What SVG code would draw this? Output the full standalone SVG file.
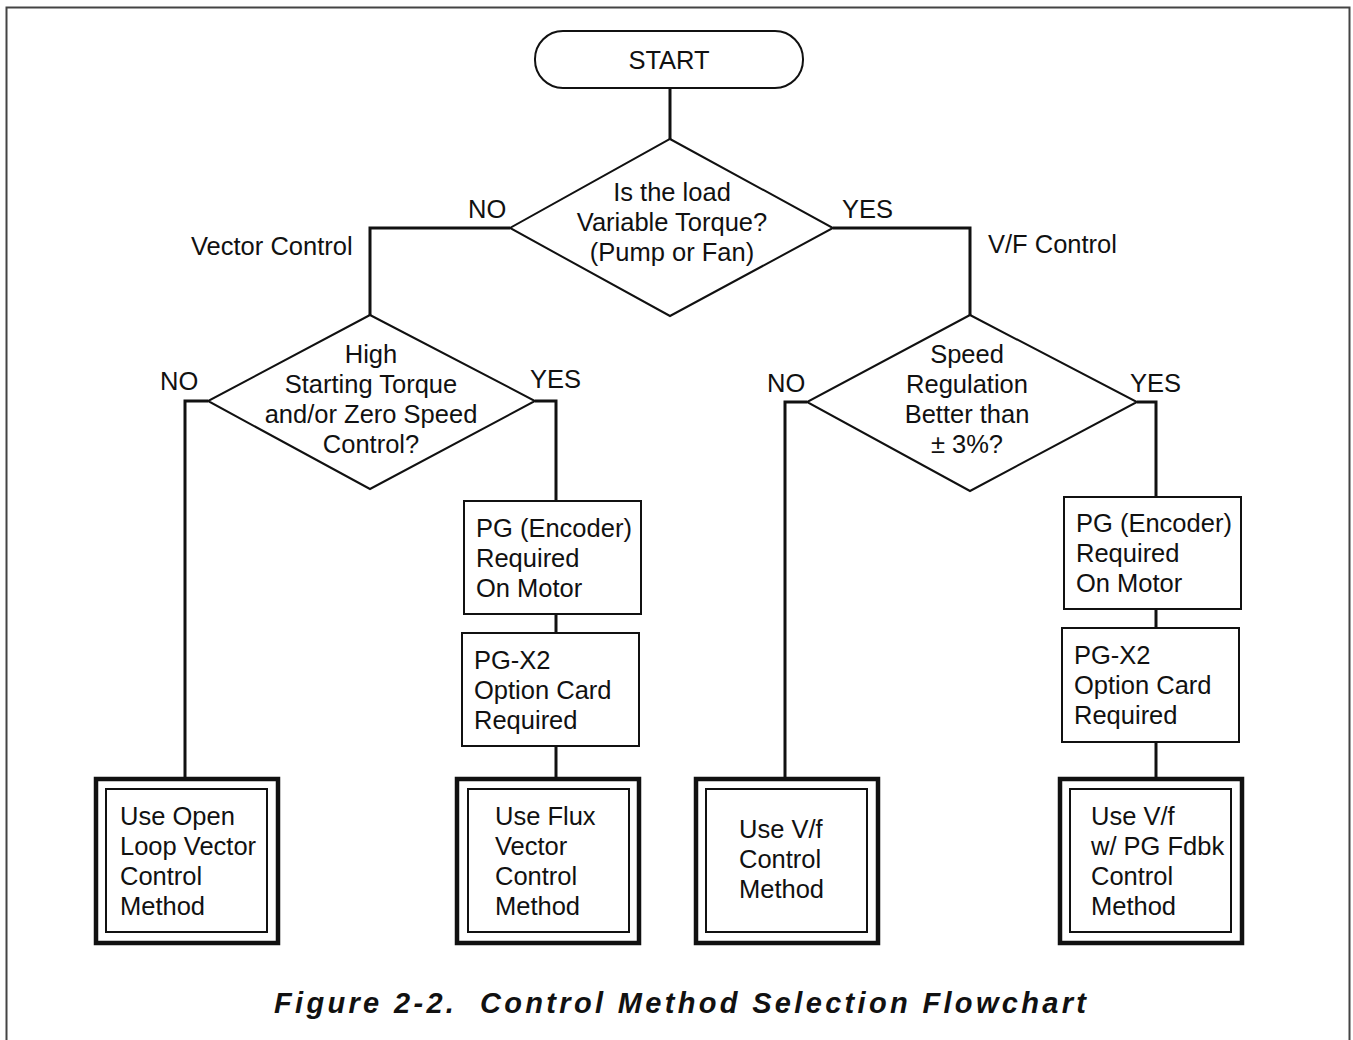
<svg xmlns="http://www.w3.org/2000/svg" width="1353" height="1040" viewBox="0 0 1353 1040">
<style>
text{font-family:"Liberation Sans",Arial,sans-serif;font-size:25.5px;fill:#111}
.c{text-anchor:middle}
.shape{fill:#fff;stroke:#111;stroke-width:2}
.outer{fill:#fff;stroke:#111;stroke-width:4.5}
.inner{fill:none;stroke:#111;stroke-width:2}
.conn{fill:none;stroke:#111;stroke-width:3}
.cap{font-weight:bold;font-style:italic;font-size:29px}
</style>
<rect x="0" y="0" width="1353" height="1040" fill="#fff"/>
<path d="M6.5 1040V7.5H1349.5V1040" fill="none" stroke="#444" stroke-width="2"/>
<g id="connectors">
<path class="conn" d="M670 88V139"/>
<path class="conn" d="M510 228H370V315"/>
<path class="conn" d="M833 228H970V315"/>
<path class="conn" d="M208 401H185V779"/>
<path class="conn" d="M535 401H556V501"/>
<path class="conn" d="M556 614V633"/>
<path class="conn" d="M556 746V779"/>
<path class="conn" d="M807 402H785V779"/>
<path class="conn" d="M1137 402H1156V497"/>
<path class="conn" d="M1156 609V628"/>
<path class="conn" d="M1156 742V779"/>
<text x="468" y="218">NO</text>
<text x="842" y="218">YES</text>
<text x="191" y="255">Vector Control</text>
<text x="988" y="253">V/F Control</text>
<text x="160" y="390">NO</text>
<text x="530" y="388">YES</text>
<text x="767" y="392">NO</text>
<text x="1130" y="392">YES</text>
</g>
<g id="start">
<rect class="shape" x="535" y="31" width="268" height="57" rx="28"/>
<text class="c" x="669" y="69">START</text>
</g>
<g id="q1">
<polygon class="shape" points="670,139 833,228 670,316 510,228"/>
<text class="c" x="672" y="201">Is the load</text>
<text class="c" x="672" y="231">Variable Torque?</text>
<text class="c" x="672" y="261">(Pump or Fan)</text>
</g>
<g id="q2">
<polygon class="shape" points="370,315 535,401 370,489 208,401"/>
<text class="c" x="371" y="363">High</text>
<text class="c" x="371" y="393">Starting Torque</text>
<text class="c" x="371" y="423">and/or Zero Speed</text>
<text class="c" x="371" y="453">Control?</text>
</g>
<g id="q3">
<polygon class="shape" points="970,315 1137,402 970,491 807,402"/>
<text class="c" x="967" y="363">Speed</text>
<text class="c" x="967" y="393">Regulation</text>
<text class="c" x="967" y="423">Better than</text>
<text class="c" x="967" y="453">± 3%?</text>
</g>
<g id="pg-left">
<rect class="shape" x="464" y="501" width="177" height="113"/>
<text x="476" y="537">PG (Encoder)</text>
<text x="476" y="567">Required</text>
<text x="476" y="597">On Motor</text>
</g>
<g id="pgx2-left">
<rect class="shape" x="462" y="633" width="177" height="113"/>
<text x="474" y="669">PG-X2</text>
<text x="474" y="699">Option Card</text>
<text x="474" y="729">Required</text>
</g>
<g id="pg-right">
<rect class="shape" x="1064" y="497" width="177" height="112"/>
<text x="1076" y="532">PG (Encoder)</text>
<text x="1076" y="562">Required</text>
<text x="1076" y="592">On Motor</text>
</g>
<g id="pgx2-right">
<rect class="shape" x="1062" y="628" width="177" height="114"/>
<text x="1074" y="664">PG-X2</text>
<text x="1074" y="694">Option Card</text>
<text x="1074" y="724">Required</text>
</g>
<g id="open-loop">
<rect class="outer" x="96" y="779" width="182" height="164"/>
<rect class="inner" x="106" y="789" width="161" height="143"/>
<text x="120" y="825">Use Open</text>
<text x="120" y="855">Loop Vector</text>
<text x="120" y="885">Control</text>
<text x="120" y="915">Method</text>
</g>
<g id="flux-vector">
<rect class="outer" x="457" y="779" width="182" height="164"/>
<rect class="inner" x="468" y="789" width="161" height="143"/>
<text x="495" y="825">Use Flux</text>
<text x="495" y="855">Vector</text>
<text x="495" y="885">Control</text>
<text x="495" y="915">Method</text>
</g>
<g id="vf">
<rect class="outer" x="696" y="779" width="182" height="164"/>
<rect class="inner" x="706" y="789" width="161" height="143"/>
<text x="739" y="838">Use V/f</text>
<text x="739" y="868">Control</text>
<text x="739" y="898">Method</text>
</g>
<g id="vf-pg">
<rect class="outer" x="1060" y="779" width="182" height="164"/>
<rect class="inner" x="1070" y="789" width="161" height="143"/>
<text x="1091" y="825">Use V/f</text>
<text x="1091" y="855">w/ PG Fdbk</text>
<text x="1091" y="885">Control</text>
<text x="1091" y="915">Method</text>
</g>
<text class="cap" x="274" y="1013" textLength="812" lengthAdjust="spacing" xml:space="preserve">Figure 2-2.  Control Method Selection Flowchart</text>
</svg>
